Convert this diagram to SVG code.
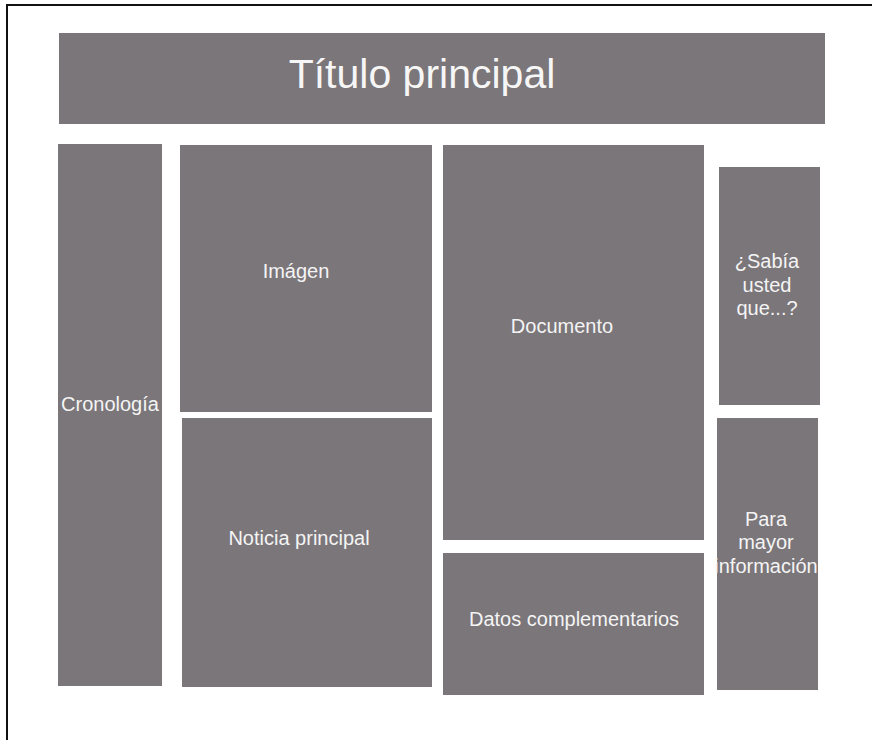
<svg xmlns="http://www.w3.org/2000/svg" width="872" height="740" viewBox="0 0 872 740">
<style>
.box{fill:#7b767a}
.lbl{font-family:"Liberation Sans",Arial,sans-serif;font-size:20px;fill:#f4f4f4;text-anchor:middle}
.ttl{font-family:"Liberation Sans",Arial,sans-serif;font-size:41px;fill:#f6f6f6;text-anchor:middle}
</style>
<rect x="0" y="0" width="872" height="740" fill="#ffffff"/>
<path d="M7 740 V5 H872" fill="none" stroke="#111" stroke-width="2"/>
<g id="titulo"><rect class="box" x="59" y="33" width="766" height="91"/><text class="ttl" x="422" y="88">Título principal</text></g>
<g id="cronologia"><rect class="box" x="58" y="144" width="104" height="542"/><text class="lbl" x="110" y="411">Cronología</text></g>
<g id="imagen"><rect class="box" x="180" y="145" width="252" height="267"/><text class="lbl" x="296" y="278">Imágen</text></g>
<g id="noticia"><rect class="box" x="182" y="418" width="250" height="269"/><text class="lbl" x="299" y="545">Noticia principal</text></g>
<g id="documento"><rect class="box" x="443" y="145" width="261" height="395"/><text class="lbl" x="562" y="333">Documento</text></g>
<g id="datos"><rect class="box" x="443" y="553" width="261" height="142"/><text class="lbl" x="574" y="626">Datos complementarios</text></g>
<g id="sabia"><rect class="box" x="719" y="167" width="101" height="238"/><text class="lbl" x="767"><tspan x="767" y="268">¿Sabía</tspan><tspan x="767" y="292">usted</tspan><tspan x="767" y="315">que...?</tspan></text></g>
<g id="info"><rect class="box" x="717" y="418" width="101" height="272"/><text class="lbl" x="766"><tspan x="766" y="526">Para</tspan><tspan x="766" y="549">mayor</tspan><tspan x="766" y="573">información</tspan></text></g>
<g id="connectors"></g>
</svg>
